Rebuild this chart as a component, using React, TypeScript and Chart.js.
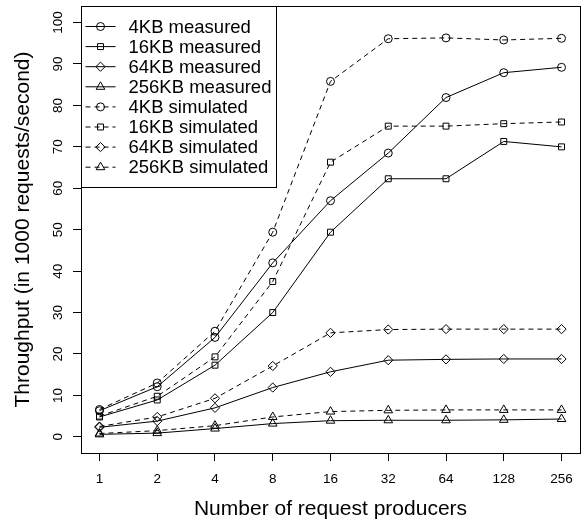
import { useEffect, useRef } from "react";
import { Chart, registerables } from "chart.js";
import { drawPoint } from "chart.js/helpers";

Chart.register(...registerables);

const categories = ["1", "2", "4", "8", "16", "32", "64", "128", "256"];
const yTicks = [0, 10, 20, 30, 40, 50, 60, 70, 80, 90, 100];

const measured4KB = [6.3, 12.1, 24.0, 42.0, 57.0, 68.5, 81.9, 87.9, 89.2];
const measured16KB = [4.8, 8.9, 17.3, 30.0, 49.4, 62.3, 62.3, 71.3, 70.0];
const measured64KB = [2.3, 3.8, 7.0, 11.9, 15.7, 18.5, 18.7, 18.8, 18.8];
const measured256KB = [0.6, 0.9, 2.0, 3.2, 3.9, 4.0, 4.0, 4.1, 4.3];
const simulated4KB = [6.6, 13.0, 25.5, 49.4, 85.8, 96.1, 96.3, 95.8, 96.2];
const simulated16KB = [5.0, 9.8, 19.3, 37.5, 66.3, 75.0, 75.0, 75.6, 76.0];
const simulated64KB = [2.5, 4.8, 9.3, 17.1, 25.1, 25.9, 26.0, 26.0, 26.0];
const simulated256KB = [0.8, 1.5, 2.7, 4.8, 6.1, 6.4, 6.5, 6.5, 6.5];

const labels = [
  "4KB measured",
  "16KB measured",
  "64KB measured",
  "256KB measured",
  "4KB simulated",
  "16KB simulated",
  "64KB simulated",
  "256KB simulated",
];

const FONT = "'Liberation Sans', Arial, Helvetica, sans-serif";

export default function App() {
  const ref = useRef<HTMLCanvasElement | null>(null);

  useEffect(() => {
    const canvas = ref.current;
    if (!canvas) return;

    const series = [
      measured4KB,
      measured16KB,
      measured64KB,
      measured256KB,
      simulated4KB,
      simulated16KB,
      simulated64KB,
      simulated256KB,
    ];
    const styles = ["circle", "rect", "rectRot", "triangle"];
    const radii = [4, 4.2, 4.6, 5];

    const datasets = series.map((vals, i) => ({
      label: labels[i],
      data: vals.map((y, j) => ({ x: j, y })),
      borderColor: "#000",
      borderWidth: 1,
      borderDash: i >= 4 ? [5, 4] : [],
      pointStyle: styles[i % 4],
      pointRadius: radii[i % 4],
      pointBorderColor: "#000",
      pointBackgroundColor: "rgba(0,0,0,0)",
      pointBorderWidth: 1,
      fill: false,
      tension: 0,
    }));

    const decor = {
      id: "decor",
      afterDraw(chart: any) {
        const ctx = chart.ctx;
        const { left, right, top, bottom } = chart.chartArea;
        const ys = chart.scales.y;
        ctx.save();
        ctx.strokeStyle = "#000";
        ctx.lineWidth = 1;
        ctx.setLineDash([]);
        ctx.strokeRect(Math.round(left) + 0.5, Math.round(top) + 0.5, Math.round(right - left), Math.round(bottom - top));

        // y tick labels (rotated)
        ctx.fillStyle = "#000";
        ctx.font = `13.5px ${FONT}`;
        ctx.textAlign = "center";
        ctx.textBaseline = "alphabetic";
        for (const v of yTicks) {
          const py = ys.getPixelForValue(v);
          ctx.save();
          ctx.translate(61.5, py);
          ctx.rotate(-Math.PI / 2);
          ctx.fillText(String(v), 0, 0);
          ctx.restore();
        }

        // axis titles
        ctx.font = `21px ${FONT}`;
        ctx.save();
        ctx.translate(28.5, (top + bottom) / 2);
        ctx.rotate(-Math.PI / 2);
        ctx.fillText("Throughput (in 1000 requests/second)", 0, 0);
        ctx.restore();
        ctx.fillText("Number of request producers", (left + right) / 2, 515);

        // legend
        const lx = Math.round(left) + 0.5;
        const ly = Math.round(top) + 0.5;
        const lw = 195;
        const lh = 181;
        ctx.fillStyle = "#fff";
        ctx.fillRect(lx, ly, lw, lh);
        ctx.strokeStyle = "#000";
        ctx.strokeRect(lx, ly, lw, lh);
        ctx.font = `18.5px ${FONT}`;
        ctx.textAlign = "left";
        ctx.textBaseline = "middle";
        chart.data.datasets.forEach((ds: any, i: number) => {
          const cy = ly + 20 + i * 20.1;
          ctx.strokeStyle = "#000";
          ctx.lineWidth = 1;
          ctx.setLineDash(i >= 4 ? [5, 4] : []);
          ctx.beginPath();
          ctx.moveTo(lx + 4, cy);
          ctx.lineTo(lx + 34, cy);
          ctx.stroke();
          ctx.setLineDash([]);
          ctx.save();
          ctx.fillStyle = "rgba(0,0,0,0)";
          drawPoint(ctx, { pointStyle: ds.pointStyle, radius: ds.pointRadius, rotation: 0, borderWidth: 1 } as any, lx + 19, cy);
          ctx.restore();
          ctx.fillStyle = "#000";
          ctx.fillText(ds.label, lx + 47, cy + 1);
        });
        ctx.restore();
      },
    };

    const chart = new Chart(canvas, {
      type: "line",
      data: { datasets: datasets as any },
      options: {
        animation: false,
        responsive: false,
        maintainAspectRatio: false,
        layout: { padding: { top: 5, right: 6, left: 0, bottom: 0 } },
        plugins: {
          legend: { display: false },
          tooltip: { enabled: false },
        },
        scales: {
          x: {
            type: "linear",
            min: -0.32,
            max: 8.32,
            afterBuildTicks: (s: any) => {
              s.ticks = categories.map((_, i) => ({ value: i }));
            },
            afterFit: (s: any) => {
              s.height = 68;
            },
            ticks: {
              callback: (v: any) => categories[v as number],
              color: "#000",
              font: { family: FONT, size: 13.5 },
              padding: 10,
              maxRotation: 0,
              minRotation: 0,
              autoSkip: false,
            },
            grid: { drawOnChartArea: false, drawTicks: true, tickLength: 8, color: "#000" },
            border: { display: false },
          },
          y: {
            type: "linear",
            min: -3.9,
            max: 104,
            afterBuildTicks: (s: any) => {
              s.ticks = yTicks.map((v) => ({ value: v }));
            },
            afterFit: (s: any) => {
              s.width = 81;
            },
            ticks: { display: false },
            grid: { drawOnChartArea: false, drawTicks: true, tickLength: 8, color: "#000" },
            border: { display: false },
          },
        },
      },
      plugins: [decor],
    });

    return () => chart.destroy();
  }, []);

  return (
    <div style={{ position: "fixed", left: 0, top: 0, width: 586, height: 521, background: "#fff" }}>
      <canvas ref={ref} width={586} height={521} style={{ width: 586, height: 521, display: "block" }} />
    </div>
  );
}
